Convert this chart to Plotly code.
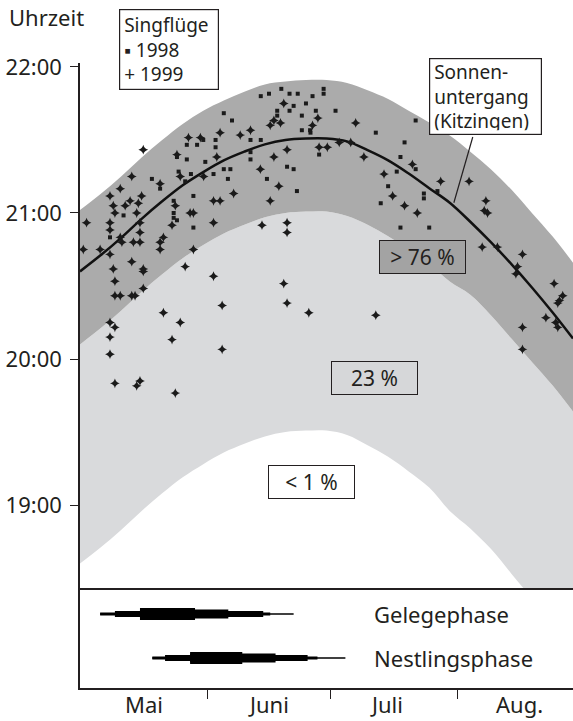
import plotly.graph_objects as go

# ---------------- data ----------------
# days counted from 1 May (day 0); times as decimal hours
days = [0, 5, 10, 15, 20, 25, 30, 35, 40, 45, 50, 55, 60, 65, 70, 75, 80, 85, 90, 95, 100, 105, 110, 115, 120]
sunset = [20.60, 20.71, 20.83, 20.96, 21.08, 21.19, 21.28, 21.36, 21.42, 21.47, 21.50, 21.51, 21.51,
          21.49, 21.43, 21.36, 21.27, 21.17, 21.07, 20.94, 20.80, 20.65, 20.49, 20.32, 20.14]
band_top = [21.02, 21.13, 21.25, 21.38, 21.50, 21.61, 21.70, 21.77, 21.83, 21.88, 21.90, 21.91, 21.91,
            21.89, 21.84, 21.78, 21.70, 21.62, 21.53, 21.42, 21.30, 21.16, 21.00, 20.84, 20.66]
band_mid = [20.10, 20.21, 20.33, 20.46, 20.58, 20.69, 20.78, 20.86, 20.92, 20.97, 21.00, 21.01, 21.01,
            20.98, 20.92, 20.84, 20.75, 20.65, 20.53, 20.44, 20.30, 20.14, 19.98, 19.82, 19.64]
band_low = [18.60, 18.71, 18.83, 18.96, 19.08, 19.19, 19.28, 19.36, 19.42, 19.47, 19.50, 19.51, 19.51,
            19.48, 19.41, 19.33, 19.23, 19.12, 18.96, 18.84, 18.70, 18.53, 18.36, 18.18, 17.99]

flights_1998_day = [44, 46, 49, 51, 53, 55, 52, 48, 51, 54, 48, 54, 56, 35, 37, 33, 26, 28.5, 30, 33,
                    41.5, 44, 26, 30.5, 17.5, 19.5, 23.6, 24, 27, 25.6, 27.6, 32.5, 35, 36.6, 36, 41.5,
                    41.5, 45.5, 50.4, 52, 52.8, 10.6, 7.3, -2, 22.8, 22.8, 22.8, 23.6, 27.6, -3.3,
                    59.3, 59.3, 56.6, 57.4, 56.1, 62.2, 72, 81.7, 58.2, 79, 78, 81.7, 77.1, 75, 73.2,
                    78, 85, 83.7, 83.7, 87]
flights_1998_time = ["21:48", "21:49", "21:51", "21:49", "21:49", "21:45", "21:44", "21:42", "21:42", "21:40",
                     "21:40", "21:34", "21:34", "21:41", "21:38", "21:30", "21:28", "21:28", "21:30", "21:27",
                     "21:30", "21:30", "21:22", "21:21", "21:14", "21:10", "21:23", "21:17", "21:16", "21:13",
                     "21:07", "21:16", "21:18", "21:18", "21:14", "21:25", "21:22", "21:14", "21:19", "21:18",
                     "21:09", "20:59", "20:50", "20:55", "21:05", "21:00", "20:58", "20:57", "20:54", "20:06",
                     "21:51", "21:49", "21:48", "21:42", "21:33", "21:42", "21:33", "21:38", "21:24", "21:29",
                     "21:23", "21:18", "21:17", "21:11", "21:04", "20:54", "20:54", "21:08", "21:06", "21:09"]

flights_1999_day = [49.6, 47.2, 48.8, 46.3, 34.1, 29.3, 26.4, 39, 41.5, 15.4, 23.6, 33.3, 12.6, 19.5, 9.8,
                    24.4, 30.1, 37.4, 43.9, 47.2, 48.4, 46.3, 50.4, 7.3, 8.1, 8.5, 11, 12.2, 14.2, 15,
                    13.8, 7.3, 7.3, 14.6, 14.6, 13, 14.6, 9.8, 10.2, 1.6, 0.8, 4.9, 7.3, 12.6, 15.4,
                    15.4, 8.1, 8.5, 15.4, 12.6, 13.4, 8.5, 9.8, -2.4, -1.2, -3.3, -0.4, 7.3, 8.5, 7.3,
                    7.3, 23.2, 22.4, 27.6, 26.8, 32.5, 34.1, 32.5, 19.5, 20.3, 19.5, 27.6, 25.6, 32.5,
                    34.6, 20.3, 24.4, 22.4, 34.6, 44.3, 50.4, 50.4, 49.6, 50.4, 55.7, 8.5, 13.8, 14.6,
                    23.2, 57.9, 56.6, 67.1, 58.2, 60.2, 63.1, 65.9, 69.1, 80.9, 74, 76.1, 79, 82.1,
                    87.8, 94.7, 98.8, 98.4, 99.2, 97.9, 101.6, 107.7, 106.5, 106.1, 115.4, 117.5, 116.7,
                    116.3, 113.4, 115.8, 116.3, 107.7, 107.7, 72]
flights_1999_time = ["21:45", "21:38", "21:37", "21:36", "21:33", "21:31", "21:31", "21:32", "21:34", "21:26",
                     "21:24", "21:23", "21:15", "21:12", "21:10", "21:15", "21:15", "21:08", "21:18", "21:23",
                     "21:11", "21:05", "21:26", "21:07", "21:03", "21:00", "21:03", "21:05", "21:04", "21:07",
                     "21:00", "20:56", "20:53", "20:56", "20:52", "20:48", "20:48", "20:50", "20:48", "20:56",
                     "20:45", "20:45", "20:43", "20:40", "20:37", "20:36", "20:37", "20:32", "20:29", "20:26",
                     "20:26", "20:26", "20:26", "20:37", "20:41", "20:26", "20:16", "20:15", "20:13", "20:09",
                     "20:02", "21:03", "20:55", "21:00", "21:00", "21:05", "21:05", "20:56", "20:48", "20:50",
                     "20:45", "20:45", "20:38", "20:34", "20:22", "20:19", "20:15", "20:08", "20:04", "20:55",
                     "20:56", "20:52", "20:31", "20:23", "20:19", "19:50", "19:49", "19:51", "19:46", "21:39",
                     "21:36", "21:37", "21:27", "21:27", "21:29", "21:29", "21:23", "21:20", "21:16", "21:07",
                     "21:03", "21:00", "21:13", "21:13", "21:05", "21:01", "21:00", "20:46", "20:46", "20:43",
                     "20:38", "20:35", "20:31", "20:26", "20:24", "20:23", "20:17", "20:15", "20:13", "20:13",
                     "20:04", "20:18"]

# breeding phases: (start day, end day) per intensity level, weakest -> strongest
phase_names = ["Gelegephase", "Nestlingsphase"]
gelege_levels = [(4.9, 52.0), (4.9, 46.3), (8.5, 44.6), (14.6, 36.1), (14.6, 28.0)]
nestling_levels = [(17.6, 64.6), (17.6, 57.8), (20.7, 55.4), (26.8, 47.6), (26.8, 39.5)]

month_labels = ["Mai", "Juni", "Juli", "Aug."]
month_label_days = [15.5, 46, 74.5, 107]
month_starts = [31, 61, 92]
hour_ticks = [19, 20, 21, 22]
hour_labels = ["19:00", "20:00", "21:00", "22:00"]
share_labels = ["> 76 %", "23 %", "< 1 %"]
legend_lines = ["Singflüge", "▪ 1998", "+ 1999"]
sunset_label = ["Sonnen-", "untergang", "(Kitzingen)"]

# ---------------- styling ----------------
INK = "#231f20"
DARK = "#ababab"
LIGHT = "#d9dadc"
FONT = "Noto Sans"
level_widths = [1.5, 3, 6, 9, 12]


def to_h(s):
    return int(s[:2]) + int(s[3:]) / 60.0


YR = [18.432, 22.027]
XR = [0, 120]

fig = go.Figure()

# bands
fig.add_trace(go.Scatter(x=days, y=band_low, mode="lines", line=dict(width=0, shape="spline"),
                         hoverinfo="skip", showlegend=False))
fig.add_trace(go.Scatter(x=days, y=band_mid, mode="lines", line=dict(width=0, shape="spline"),
                         fill="tonexty", fillcolor=LIGHT, hoverinfo="skip", showlegend=False))
fig.add_trace(go.Scatter(x=days, y=band_top, mode="lines", line=dict(width=0, shape="spline"),
                         fill="tonexty", fillcolor=DARK, hoverinfo="skip", showlegend=False))

# sunset line
fig.add_trace(go.Scatter(x=days, y=sunset, mode="lines", line=dict(color="#111", width=2.5, shape="spline"),
                         name="Sonnenuntergang", showlegend=False))

# song flights
fig.add_trace(go.Scatter(x=flights_1998_day, y=[to_h(t) for t in flights_1998_time], mode="markers",
                         marker=dict(symbol="square", size=4, color="#1a1a1a"), cliponaxis=False,
                         name="1998", showlegend=False))
fig.add_trace(go.Scatter(x=flights_1999_day, y=[to_h(t) for t in flights_1999_time], mode="markers",
                         marker=dict(symbol="star-diamond", size=7, color="#1a1a1a"), cliponaxis=False,
                         name="1999", showlegend=False))

# phase bars
for yv, levels in ((1, gelege_levels), (0, nestling_levels)):
    for (a, b), w in zip(levels, level_widths):
        fig.add_trace(go.Scatter(x=[a, b], y=[yv, yv], mode="lines", line=dict(color="#000", width=w),
                                 xaxis="x2", yaxis="y2", hoverinfo="skip", showlegend=False))

minor_vals = [h + m / 60.0 for h in range(18, 23) for m in range(5, 60, 5)
              if 18 + 54 / 60.0 <= h + m / 60.0 <= 22]

fig.update_layout(
    width=573, height=721,
    margin=dict(l=80, r=0, t=63, b=33),
    paper_bgcolor="white", plot_bgcolor="white",
    font=dict(family=FONT, size=22, color=INK),
    showlegend=False,
    xaxis=dict(domain=[0, 1], anchor="y", range=XR, showline=True, linecolor=INK, linewidth=1.5,
               showticklabels=False, ticks="", showgrid=False, zeroline=False),
    yaxis=dict(domain=[0.16, 1], anchor="x", range=YR, showline=True, linecolor=INK, linewidth=1.5,
               tickmode="array", tickvals=hour_ticks, ticktext=hour_labels, ticks="outside",
               ticklen=8, tickwidth=1.2, tickcolor=INK, ticklabelstandoff=4,
               showgrid=False, zeroline=False, tickfont=dict(size=22)),
    yaxis3=dict(overlaying="y", anchor="x", side="left", range=YR, tickmode="array", tickvals=minor_vals,
                ticks="outside", ticklen=5, tickwidth=1, tickcolor=INK, showticklabels=False,
                showline=False, showgrid=False, zeroline=False),
    xaxis2=dict(domain=[0, 1], anchor="y2", range=XR, showline=True, linecolor=INK, linewidth=1.5,
                tickmode="array", tickvals=month_starts, ticks="outside", ticklen=9, tickwidth=1.2,
                tickcolor=INK, showticklabels=False, showgrid=False, zeroline=False),
    yaxis2=dict(domain=[0, 0.16], anchor="x2", range=[-0.68, 1.59], showline=True, linecolor=INK,
                linewidth=1.5, showticklabels=False, ticks="", showgrid=False, zeroline=False),
)

ann = []
# axis title
ann.append(dict(text="Uhrzeit", xref="paper", yref="paper", x=-0.148, y=1.0736, xanchor="left",
                yanchor="middle", showarrow=False, font=dict(size=22)))
# month labels
for lab, d in zip(month_labels, month_label_days):
    ann.append(dict(text=lab, xref="x2", yref="paper", x=d, y=(688 - 704) / 625, xanchor="center",
                    yanchor="middle", showarrow=False, font=dict(size=22)))
# phase labels
for name, yv in zip(phase_names, [1, 0]):
    ann.append(dict(text=name, xref="x2", yref="y2", x=71, y=yv, xanchor="left", yanchor="middle",
                    showarrow=False, font=dict(size=22)))
# share boxes
for lab, (xd, yh), bg in zip(share_labels, [(83.3, 20.70), (71.8, 19.87), (56.3, 19.16)],
                             ["#a3a3a3", "#d6d7d9", "white"]):
    ann.append(dict(text=lab, xref="x", yref="y", x=xd, y=yh, xanchor="center", yanchor="middle",
                    showarrow=False, bgcolor=bg, bordercolor=INK, borderwidth=1, width=83, height=30,
                    font=dict(size=21)))
# legend box
ann.append(dict(text="<br>".join(legend_lines), xref="paper", yref="paper",
                x=(169 - 80) / 493, y=(688 - 49.5) / 625, xanchor="center", yanchor="middle",
                align="left", showarrow=False, bgcolor="white", bordercolor=INK, borderwidth=1.2,
                borderpad=4, width=90, height=71, font=dict(size=19)))
# sunset label box
ann.append(dict(text="<br>".join(sunset_label), xref="paper", yref="paper",
                x=(485.5 - 80) / 493, y=(688 - 96.5) / 625, xanchor="center", yanchor="middle",
                align="left", showarrow=False, bgcolor="white", bordercolor=INK, borderwidth=1.2,
                borderpad=4, width=103, height=67, font=dict(size=19)))
fig.update_layout(annotations=ann)

shapes = [
    dict(type="line", xref="x", yref="y", x0=95.6, y0=21.52, x1=91.0, y1=21.07,
         line=dict(color=INK, width=1.2)),
]
fig.update_layout(shapes=shapes)

fig.write_html("out.html")
